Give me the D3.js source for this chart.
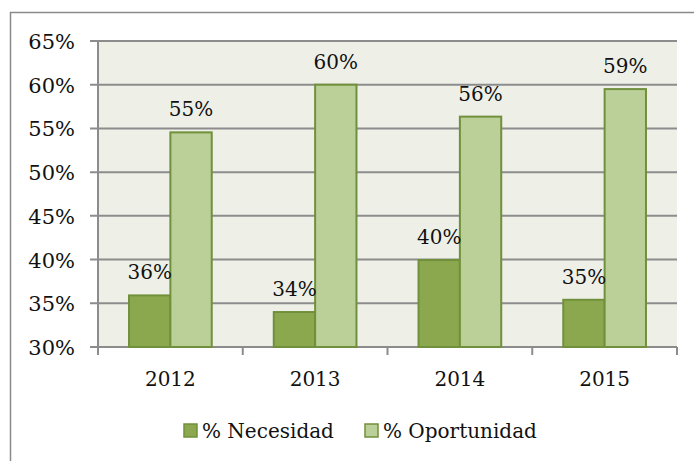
<!DOCTYPE html>
<html>
<head>
<meta charset="utf-8">
<script src="https://cdn.jsdelivr.net/npm/d3@7"></script>
<style>
  body { margin: 0; background: #fff; }
  svg text { font-family: "DejaVu Serif", serif; fill: #111; }
</style>
</head>
<body>
<div id="chart"></div>
<script>
// data
const years = ["2012", "2013", "2014", "2015"];
const necesidad = [35.9, 34.0, 39.95, 35.4];
const oportunidad = [54.55, 60.0, 56.35, 59.5];
const necLabels = ["36%", "34%", "40%", "35%"];
const opLabels = ["55%", "60%", "56%", "59%"];
const seriesNames = ["% Necesidad", "% Oportunidad"];
const yTicks = [30, 35, 40, 45, 50, 55, 60, 65];

const W = 694, H = 461;
const margin = {top: 41, right: 17, bottom: 114, left: 98},
    width = W - margin.left - margin.right,
    height = H - margin.top - margin.bottom;

const colors = ["#8ba84f", "#bbcf98"];
const stroke = "#71903b";

const svg = d3.select("#chart").append("svg")
  .attr("width", W)
  .attr("height", H);

// outer chart border (cut off on the right and bottom)
svg.append("path")
  .attr("d", "M10.5,470 V12.5 H700")
  .attr("fill", "none")
  .attr("stroke", "#8a8a8a")
  .attr("stroke-width", 1.5);

const g = svg.append("g")
  .attr("transform", `translate(${margin.left},${margin.top})`);

const x = d3.scaleBand().domain(years).range([0, width]).padding(0);
const x1 = d3.scaleBand().domain([0, 1]).range([0, x.bandwidth()]).paddingOuter(0.75).paddingInner(0);
const y = d3.scaleLinear().domain([30, 65]).range([height, 0]);

// plot background
g.append("rect")
  .attr("width", width).attr("height", height)
  .attr("fill", "#eef0e8");

// gridlines
g.selectAll(".grid").data(yTicks).join("line")
  .attr("x1", -8).attr("x2", width)
  .attr("y1", d => y(d)).attr("y2", d => y(d))
  .attr("stroke", "#8c8c8c").attr("stroke-width", 2);

// y axis line
g.append("line")
  .attr("x1", 0).attr("x2", 0).attr("y1", 0).attr("y2", height)
  .attr("stroke", "#8c8c8c").attr("stroke-width", 2);

// y labels
g.selectAll(".ylab").data(yTicks).join("text")
  .attr("x", -23).attr("y", d => y(d) + 8)
  .attr("text-anchor", "end")
  .style("font-size", "21px")
  .text(d => d + "%");

// x ticks at category boundaries
const bounds = years.map(d => x(d)).concat([width]);
g.selectAll(".xtick").data(bounds).join("line")
  .attr("x1", d => d).attr("x2", d => d)
  .attr("y1", height).attr("y2", height + 8)
  .attr("stroke", "#8c8c8c").attr("stroke-width", 2);

// x labels
g.selectAll(".xlab").data(years).join("text")
  .attr("x", d => x(d) + x.bandwidth() / 2)
  .attr("y", height + 39)
  .attr("text-anchor", "middle")
  .style("font-size", "20px")
  .text(d => d);

// bars
const series = [necesidad, oportunidad];
const labels = [necLabels, opLabels];
series.forEach((vals, s) => {
  g.selectAll(".bar" + s).data(vals).join("rect")
    .attr("x", (d, i) => x(years[i]) + x1(s))
    .attr("y", d => y(d))
    .attr("width", x1.bandwidth())
    .attr("height", d => height - y(d))
    .attr("fill", colors[s])
    .attr("stroke", stroke)
    .attr("stroke-width", 2);
});
series.forEach((vals, s) => {
  g.selectAll(".lab" + s).data(vals).join("text")
    .attr("x", (d, i) => x(years[i]) + x1(s) + x1.bandwidth() / 2)
    .attr("y", d => y(d) - 16)
    .attr("text-anchor", "middle")
    .style("font-size", "20px")
    .text((d, i) => labels[s][i]);
});

// legend
const legendX = [184, 365];
seriesNames.forEach((name, s) => {
  svg.append("rect")
    .attr("x", legendX[s]).attr("y", 424)
    .attr("width", 13).attr("height", 13)
    .attr("fill", colors[s])
    .attr("stroke", stroke).attr("stroke-width", 1.5);
  svg.append("text")
    .attr("x", legendX[s] + 18).attr("y", 438)
    .style("font-size", "20px")
    .text(name);
});
</script>
</body>
</html>
